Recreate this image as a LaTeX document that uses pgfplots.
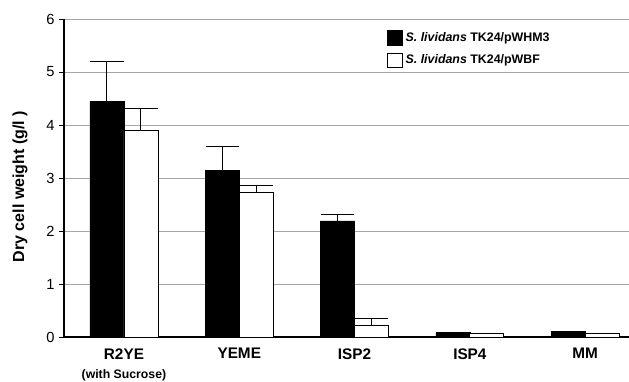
\documentclass[border=0pt]{standalone}
\usepackage{pgfplots}
\pgfplotsset{compat=1.18}
\usepackage{fontspec}
\setmainfont{Liberation Sans}
\begin{document}
\begin{tikzpicture}
\begin{axis}[
  scale only axis,
  width=423.75pt, height=238.5pt,
  xmin=-0.52, xmax=4.38,
  ymin=0, ymax=6,
  ytick={0,1,2,3,4,5,6},
  xtick={0,1,2,3,4},
  xticklabels={{R2YE\\[1.5pt]{\fontsize{9.2}{10}\selectfont (with Sucrose)}},YEME,ISP2,ISP4,MM},
  xticklabel style={font=\bfseries\fontsize{11.5}{13}\selectfont, align=center, anchor=north, yshift=-1.5pt},
  yticklabel style={font=\fontsize{11}{13}\selectfont},
  /pgf/number format/assume math mode=true,
  axis lines=left,
  axis line style={-, line width=0.8pt, black},
  xtick style={draw=none},
  ytick style={line width=0.6pt, black},
  tick align=outside,
  major tick length=3.5pt,
  ymajorgrids,
  grid style={gray!70, line width=0.6pt},
  ylabel={\bfseries Dry cell weight (g/l )},
  ylabel style={font=\fontsize{12}{14}\selectfont, at={(axis description cs:0,0.5)}, anchor=center, rotate=0, yshift=33pt, xshift=-6.5pt},
  legend style={at={(0.565,0.975)}, anchor=north west, draw=none, fill=none,
    font=\bfseries\fontsize{9.3}{11}\selectfont, row sep=4.5pt,
    legend cell align=left},
  legend image code/.code={\draw[#1, line width=0.6pt] (0pt,-5.5pt) rectangle (11pt,5.5pt);},
  clip=false,
]
\addplot[ybar, bar width=25.5pt, bar shift=0pt, fill=black, draw=black,
  error bars/.cd, y dir=plus, y explicit,
  error bar style={line width=0.8pt, black},
  error mark options={rotate=90, mark size=12.5pt, line width=0.8pt, black}]
  table[x=x, y=y, y error=e] {
x y e
-0.1474 4.44 0.75
0.8526 3.14 0.45
1.8526 2.19 0.12
2.8526 0.08 0
3.8526 0.10 0
};
\addlegendentry{\textit{S. lividans} TK24/pWHM3}
\addplot[ybar, bar width=25.5pt, bar shift=0pt, fill=white, draw=black, line width=0.6pt,
  error bars/.cd, y dir=plus, y explicit,
  error bar style={line width=0.8pt, black},
  error mark options={rotate=90, mark size=12.5pt, line width=0.8pt, black}]
  table[x=x, y=y, y error=e] {
x y e
0.1474 3.89 0.42
1.1474 2.72 0.13
2.1474 0.21 0.13
3.1474 0.06 0
4.1474 0.07 0
};
\addlegendentry{\textit{S. lividans} TK24/pWBF}
\end{axis}
\pgfresetboundingbox
\path (current axis.south west) ++(-48pt,-33.75pt) coordinate (bbA);
\path (current axis.north east) ++(0pt,14.25pt) coordinate (bbB);
\useasboundingbox (bbA) rectangle (bbB);
\end{tikzpicture}
\end{document}
